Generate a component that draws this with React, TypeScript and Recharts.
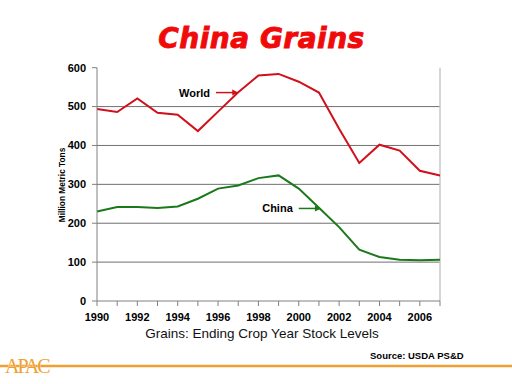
import React from 'react';
import { LineChart, Line, XAxis, YAxis, ReferenceLine } from 'recharts';

const years = [1990, 1991, 1992, 1993, 1994, 1995, 1996, 1997, 1998, 1999, 2000, 2001, 2002, 2003, 2004, 2005, 2006, 2007];
const world = [494, 486, 521, 484, 479, 437, 487, 537, 580, 584, 564, 536, 443, 355, 402, 387, 335, 323];
const china = [230, 242, 242, 239, 243, 263, 289, 297, 316, 323, 289, 240, 190, 132, 113, 106, 105, 106];
const yTicks = [0, 100, 200, 300, 400, 500, 600];
const gridValues = [100, 200, 300, 400, 500];

const annotations = [
  { name: 'World', x1: 1995.9, x2: 1997.0, y: 536, color: '#D0101C' },
  { name: 'China', x1: 2000.0, x2: 2001.1, y: 238, color: '#1A7A1A' },
];

const data = years.map((year, i) => ({ year, world: world[i], china: china[i] }));

const FONT = '"Liberation Sans", Arial, sans-serif';

const makeArrow = (name: string, color: string) => (props: any) => {
  const { x1, y1, x2, y2 } = props;
  const head = 6;
  return (
    <g>
      <line x1={x1} y1={y1} x2={x2 - 2} y2={y2} stroke={color} strokeWidth={1.5} />
      <polygon points={`${x2},${y2} ${x2 - head},${y2 - 3} ${x2 - head},${y2 + 3}`} fill={color} />
      <text x={x1 - 6} y={y1 + 4} textAnchor="end" fontFamily={FONT} fontWeight="bold" fontSize={11} fill="#000">{name}</text>
    </g>
  );
};

export default function App() {
  return (
    <div style={{ position: 'absolute', left: 0, top: 0, width: 512, height: 384, background: '#fff', fontFamily: FONT }}>
      <LineChart width={512} height={384} data={data} margin={{ top: 67.7, right: 72, bottom: 53, left: 57 }}>
        <XAxis
          type="number"
          dataKey="year"
          domain={[1990, 2007]}
          ticks={years}
          interval={0}
          tickFormatter={(v: number) => (v % 2 === 0 ? String(v) : '')}
          tick={{ fontFamily: FONT, fontWeight: 'bold', fontSize: 11, fill: '#000' }}
          tickSize={5}
          tickMargin={7}
          stroke="#808080"
          height={30}
        />
        <YAxis
          type="number"
          domain={[0, 600]}
          ticks={yTicks}
          interval={0}
          tick={{ fontFamily: FONT, fontWeight: 'bold', fontSize: 11, fill: '#000' }}
          tickSize={5}
          tickMargin={6}
          stroke="#808080"
          width={40}
        />
        {gridValues.map((v) => (
          <ReferenceLine key={v} y={v} stroke="#707070" strokeWidth={1} />
        ))}
        <ReferenceLine x={2007} stroke="#c8c8c8" strokeWidth={1.5} />
        <Line type="linear" dataKey="world" stroke="#D0101C" strokeWidth={2} dot={false} isAnimationActive={false} />
        <Line type="linear" dataKey="china" stroke="#1A7A1A" strokeWidth={2} dot={false} isAnimationActive={false} />
        {annotations.map((a) => (
          <ReferenceLine
            key={a.name}
            segment={[{ x: a.x1, y: a.y }, { x: a.x2, y: a.y }]}
            stroke={a.color}
            shape={makeArrow(a.name, a.color)}
          />
        ))}
      </LineChart>
      <svg width={512} height={384} style={{ position: 'absolute', left: 0, top: 0, pointerEvents: 'none' }}>
        <text x={261.5} y={48} textAnchor="middle" fontFamily='"DejaVu Sans", sans-serif' fontWeight="bold" fontStyle="italic" fontSize={28} letterSpacing={0.5} fill="#F00A0A" stroke="#F00A0A" strokeWidth={0.9}>China Grains</text>
        <text x={65} y={185} textAnchor="middle" transform="rotate(-90 65 185)" fontFamily={FONT} fontWeight="bold" fontSize={8.3} fill="#000">Million Metric Tons</text>
        <text x={262} y={338} textAnchor="middle" fontFamily={FONT} fontSize={13.5} fill="#111">Grains: Ending Crop Year Stock Levels</text>
        <text x={370} y={359} fontFamily={FONT} fontWeight="bold" fontSize={9.5} fill="#000">Source: USDA PS&amp;D</text>
        <line x1={0} y1={366} x2={512} y2={366} stroke="#F0A030" strokeWidth={2.5} />
        <text x={5} y={373} fontFamily='"Liberation Serif", serif' fontSize={20} letterSpacing={-2} fill="#F0A030" stroke="#fff" strokeWidth={0.6} paintOrder="stroke">APAC</text>
      </svg>
    </div>
  );
}
